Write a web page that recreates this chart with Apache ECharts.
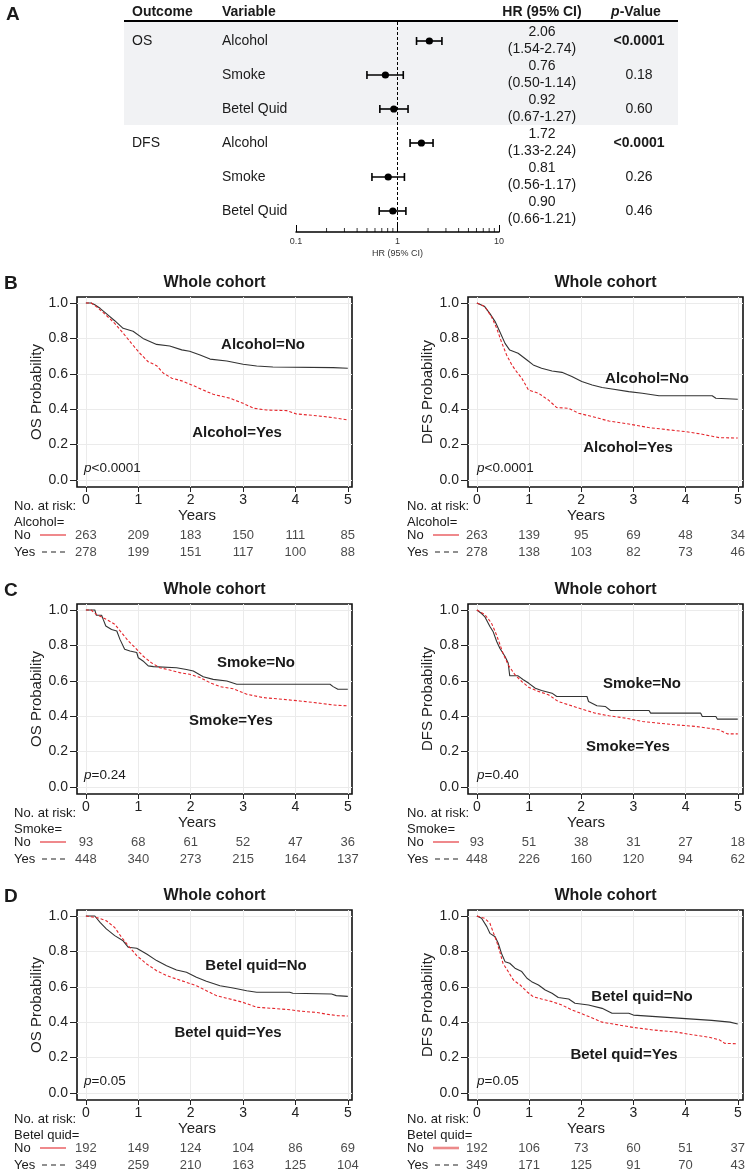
<!DOCTYPE html>
<html><head><meta charset="utf-8">
<script src="https://cdn.jsdelivr.net/npm/echarts@6/dist/echarts.min.js"></script>
<style>html,body{margin:0;padding:0;background:#fff}#c{width:750px;height:1176px}</style>
</head><body><div id="c"></div>
<script>
// ---------- Panel A: forest plot data ----------
const forestOutcome = ['OS', '', '', 'DFS', '', ''];
const forestVariable = ['Alcohol', 'Smoke', 'Betel Quid', 'Alcohol', 'Smoke', 'Betel Quid'];
const forestHR = [2.06, 0.76, 0.92, 1.72, 0.81, 0.90];
const forestLow = [1.54, 0.50, 0.67, 1.33, 0.56, 0.66];
const forestHigh = [2.74, 1.14, 1.27, 2.24, 1.17, 1.21];
const forestP = ['<0.0001', '0.18', '0.60', '<0.0001', '0.26', '0.46'];
const forestMinorTicks = [0.2, 0.3, 0.4, 0.5, 0.6, 0.7, 0.8, 0.9, 2, 3, 4, 5, 6, 7, 8, 9];

// ---------- KM axes ----------
const years = [0, 1, 2, 3, 4, 5];
const yTicks = [0, 0.2, 0.4, 0.6, 0.8, 1.0];

// ---------- KM curves [years, probability] ----------
const osAlcNo = [[0,1],[0.1,1],[0.17,0.99],[0.27,0.97],[0.39,0.94],[0.55,0.90],[0.71,0.857],[0.9,0.84],[1.09,0.80],[1.35,0.766],[1.6,0.757],[1.83,0.735],[1.98,0.727],[2.18,0.706],[2.37,0.683],[2.69,0.672],[3.0,0.654],[3.26,0.644],[3.57,0.638],[4.72,0.635],[5.0,0.631]];
const osAlcYes = [[0,1],[0.1,1],[0.2,0.98],[0.39,0.93],[0.55,0.885],[0.71,0.83],[0.87,0.772],[1.03,0.716],[1.19,0.668],[1.35,0.646],[1.48,0.603],[1.64,0.575],[1.83,0.56],[2.02,0.537],[2.24,0.508],[2.43,0.484],[2.75,0.462],[3.0,0.433],[3.2,0.405],[3.45,0.395],[3.83,0.392],[4.02,0.373],[4.4,0.363],[4.72,0.352],[5.0,0.339]];
const dfsAlcNo = [[0,1],[0.15,0.98],[0.25,0.94],[0.35,0.895],[0.44,0.838],[0.54,0.772],[0.63,0.734],[0.79,0.716],[0.96,0.678],[1.08,0.65],[1.24,0.631],[1.44,0.616],[1.63,0.608],[1.82,0.584],[2.01,0.556],[2.21,0.537],[2.4,0.522],[2.59,0.514],[2.91,0.499],[3.17,0.49],[3.49,0.476],[4.51,0.476],[4.58,0.462],[5.0,0.456]];
const dfsAlcYes = [[0,1],[0.15,0.98],[0.28,0.923],[0.38,0.857],[0.47,0.781],[0.57,0.706],[0.67,0.65],[0.76,0.612],[0.86,0.575],[0.99,0.508],[1.18,0.49],[1.37,0.452],[1.53,0.409],[1.76,0.405],[1.95,0.377],[2.21,0.358],[2.53,0.333],[2.91,0.316],[3.29,0.296],[3.68,0.283],[4.0,0.273],[4.32,0.258],[4.64,0.239],[5.0,0.237]];
const osSmkNo = [[0,1],[0.17,1],[0.2,0.97],[0.3,0.97],[0.33,0.947],[0.38,0.91],[0.49,0.89],[0.59,0.881],[0.65,0.834],[0.74,0.778],[0.84,0.768],[0.97,0.76],[1.0,0.73],[1.09,0.712],[1.19,0.684],[1.29,0.68],[1.73,0.674],[1.92,0.664],[2.05,0.655],[2.24,0.623],[2.43,0.608],[2.69,0.599],[2.88,0.58],[4.66,0.58],[4.72,0.567],[4.81,0.552],[5.0,0.552]];
const osSmkYes = [[0,1],[0.1,1],[0.2,0.975],[0.39,0.947],[0.55,0.92],[0.68,0.872],[0.81,0.825],[0.94,0.787],[1.09,0.74],[1.25,0.702],[1.41,0.674],[1.6,0.661],[1.79,0.646],[1.98,0.637],[2.18,0.618],[2.37,0.589],[2.56,0.567],[2.81,0.555],[3.07,0.524],[3.38,0.505],[3.77,0.495],[4.08,0.486],[4.47,0.473],[4.72,0.463],[5.0,0.458]];
const dfsSmkNo = [[0,1],[0.09,0.98],[0.15,0.963],[0.25,0.907],[0.31,0.879],[0.38,0.822],[0.44,0.784],[0.54,0.737],[0.6,0.70],[0.63,0.628],[0.79,0.628],[0.89,0.606],[0.99,0.587],[1.12,0.558],[1.24,0.545],[1.44,0.53],[1.53,0.511],[2.11,0.511],[2.14,0.483],[2.3,0.459],[2.46,0.455],[2.56,0.432],[3.3,0.432],[3.33,0.417],[4.29,0.417],[4.32,0.398],[4.58,0.398],[4.61,0.383],[5.0,0.383]];
const dfsSmkYes = [[0,1],[0.15,0.975],[0.28,0.926],[0.35,0.879],[0.41,0.832],[0.5,0.756],[0.6,0.69],[0.73,0.634],[0.86,0.596],[0.99,0.564],[1.18,0.54],[1.37,0.521],[1.56,0.483],[1.76,0.464],[2.01,0.44],[2.27,0.417],[2.53,0.402],[2.85,0.389],[3.17,0.37],[3.49,0.36],[3.81,0.351],[4.19,0.342],[4.44,0.332],[4.64,0.323],[4.8,0.30],[5.0,0.30]];
const osBetNo = [[0,1],[0.17,1],[0.27,0.964],[0.39,0.927],[0.55,0.889],[0.71,0.86],[0.81,0.823],[0.97,0.818],[1.16,0.785],[1.35,0.748],[1.54,0.719],[1.73,0.695],[1.92,0.682],[2.11,0.654],[2.3,0.631],[2.56,0.606],[2.81,0.593],[3.07,0.578],[3.26,0.569],[3.89,0.569],[3.95,0.563],[4.69,0.559],[4.78,0.55],[5.0,0.546]];
const osBetYes = [[0,1],[0.22,0.99],[0.39,0.973],[0.55,0.935],[0.68,0.88],[0.81,0.832],[0.97,0.776],[1.16,0.729],[1.35,0.691],[1.54,0.663],[1.73,0.644],[1.92,0.625],[2.11,0.606],[2.3,0.578],[2.49,0.55],[2.75,0.531],[3.0,0.512],[3.26,0.484],[3.57,0.478],[3.9,0.47],[4.1,0.462],[4.4,0.455],[4.6,0.445],[4.8,0.437],[5.0,0.435]];
const dfsBetNo = [[0,1],[0.09,0.987],[0.19,0.94],[0.25,0.902],[0.35,0.883],[0.41,0.846],[0.47,0.79],[0.54,0.742],[0.63,0.733],[0.73,0.705],[0.86,0.686],[0.96,0.648],[1.05,0.629],[1.18,0.61],[1.31,0.582],[1.44,0.563],[1.56,0.539],[1.76,0.531],[1.88,0.507],[2.14,0.497],[2.4,0.478],[2.59,0.45],[2.91,0.45],[3.0,0.44],[3.5,0.43],[4.0,0.42],[4.5,0.41],[4.85,0.40],[5.0,0.39]];
const dfsBetYes = [[0,1],[0.15,0.987],[0.25,0.959],[0.31,0.911],[0.38,0.855],[0.44,0.798],[0.5,0.733],[0.6,0.686],[0.7,0.638],[0.83,0.61],[0.96,0.572],[1.08,0.544],[1.24,0.531],[1.44,0.516],[1.63,0.497],[1.82,0.469],[1.99,0.45],[2.2,0.425],[2.4,0.40],[2.7,0.385],[3.0,0.37],[3.4,0.355],[3.8,0.345],[4.1,0.33],[4.45,0.315],[4.65,0.30],[4.75,0.28],[5.0,0.278]];

// ---------- Numbers at risk (at years 0..5) ----------
const riskOsAlcNo = [263, 209, 183, 150, 111, 85];
const riskOsAlcYes = [278, 199, 151, 117, 100, 88];
const riskDfsAlcNo = [263, 139, 95, 69, 48, 34];
const riskDfsAlcYes = [278, 138, 103, 82, 73, 46];
const riskOsSmkNo = [93, 68, 61, 52, 47, 36];
const riskOsSmkYes = [448, 340, 273, 215, 164, 137];
const riskDfsSmkNo = [93, 51, 38, 31, 27, 18];
const riskDfsSmkYes = [448, 226, 160, 120, 94, 62];
const riskOsBetNo = [192, 149, 124, 104, 86, 69];
const riskOsBetYes = [349, 259, 210, 163, 125, 104];
const riskDfsBetNo = [192, 106, 73, 60, 51, 37];
const riskDfsBetYes = [349, 171, 125, 91, 70, 43];

const pOsAlc = '<0.0001', pDfsAlc = '<0.0001', pOsSmk = '=0.24', pDfsSmk = '=0.40', pOsBet = '=0.05', pDfsBet = '=0.05';

// ---------- layout ----------
const F = 'Liberation Sans, Arial, Helvetica, sans-serif';
const INK = '#1a1a1a';
const RED = '#e5262c';
const rowBase = [303, 610, 916];

const panels = [
  {letter:'B', yName:'OS Probability', no:osAlcNo, yes:osAlcYes, rNo:riskOsAlcNo, rYes:riskOsAlcYes, grp:'Alcohol=', lNo:'Alcohol=No', lYes:'Alcohol=Yes', p:pOsAlc, posNo:[263,345], posYes:[237,433]},
  {letter:'', yName:'DFS Probability', no:dfsAlcNo, yes:dfsAlcYes, rNo:riskDfsAlcNo, rYes:riskDfsAlcYes, grp:'Alcohol=', lNo:'Alcohol=No', lYes:'Alcohol=Yes', p:pDfsAlc, posNo:[647,379], posYes:[628,448]},
  {letter:'C', yName:'OS Probability', no:osSmkNo, yes:osSmkYes, rNo:riskOsSmkNo, rYes:riskOsSmkYes, grp:'Smoke=', lNo:'Smoke=No', lYes:'Smoke=Yes', p:pOsSmk, posNo:[256,663], posYes:[231,721]},
  {letter:'', yName:'DFS Probability', no:dfsSmkNo, yes:dfsSmkYes, rNo:riskDfsSmkNo, rYes:riskDfsSmkYes, grp:'Smoke=', lNo:'Smoke=No', lYes:'Smoke=Yes', p:pDfsSmk, posNo:[642,684], posYes:[628,747]},
  {letter:'D', yName:'OS Probability', no:osBetNo, yes:osBetYes, rNo:riskOsBetNo, rYes:riskOsBetYes, grp:'Betel quid=', lNo:'Betel quid=No', lYes:'Betel quid=Yes', p:pOsBet, posNo:[256,966], posYes:[228,1033]},
  {letter:'', yName:'DFS Probability', no:dfsBetNo, yes:dfsBetYes, rNo:riskDfsBetNo, rYes:riskDfsBetYes, grp:'Betel quid=', lNo:'Betel quid=No', lYes:'Betel quid=Yes', p:pDfsBet, posNo:[642,997], posYes:[624,1055]}
];

// forest y mapping (rows 0..5)
const FY_MIN = -0.559, FY_MAX = 5.618;

const grids = [{left:296, top:22, width:203, height:210}];
const xAxes = [{
  type:'log', logBase:10, min:0.1, max:10, gridIndex:0,
  axisLine:{onZero:false, lineStyle:{color:'#000', width:1.5}},
  axisTick:{inside:true, length:7, lineStyle:{color:'#000', width:1}},
  axisLabel:{fontSize:9, color:'#333', margin:5, fontFamily:F},
  splitLine:{show:false},
  name:'HR (95% CI)', nameLocation:'middle', nameGap:17,
  nameTextStyle:{fontSize:9, color:'#333', fontFamily:F}
}];
const yAxes = [{type:'value', gridIndex:0, inverse:true, min:FY_MIN, max:FY_MAX, show:false, axisLine:{onZero:false}}];
const series = [];
const gfx = [];

function txt(x, y, text, o) {
  o = o || {};
  const st = {text, fill:o.fill||INK, fontSize:o.size||13, fontFamily:F, fontWeight:o.bold?'bold':'normal',
    align:o.align||'left', verticalAlign:'middle'};
  if (o.rich) st.rich = o.rich;
  if (o.lh) st.lineHeight = o.lh;
  gfx.push({type:'text', x, y, z:10, style:st});
}

// Forest decorations
gfx.push({type:'rect', z:0, shape:{x:124, y:22, width:554, height:103}, style:{fill:'#f1f2f4'}});
gfx.push({type:'line', z:5, shape:{x1:124, y1:21, x2:678, y2:21}, style:{stroke:'#000', lineWidth:2}});
txt(6, 15, 'A', {size:19, bold:true});
txt(132, 12, 'Outcome', {size:14, bold:true});
txt(222, 12, 'Variable', {size:14, bold:true});
txt(542, 12, 'HR (95% CI)', {size:14, bold:true, align:'center'});
txt(636, 12, '{i|p}-Value', {size:14, bold:true, align:'center',
  rich:{i:{fontStyle:'italic', fontWeight:'bold', fontSize:14, fontFamily:F, fill:INK}}});

series.push({
  type:'custom', xAxisIndex:0, yAxisIndex:0, clip:false, silent:true, z:5,
  data: forestHR.map((v, i) => [forestLow[i], forestHigh[i], v, i]),
  encode:{x:[0,1,2], y:3},
  renderItem(params, api) {
    const r = api.value(3);
    const lo = api.coord([api.value(0), r]);
    const hi = api.coord([api.value(1), r]);
    const c = api.coord([api.value(2), r]);
    const st = {stroke:'#000', lineWidth:1.6};
    return {type:'group', children:[
      {type:'line', shape:{x1:lo[0], y1:lo[1], x2:hi[0], y2:hi[1]}, style:st},
      {type:'line', shape:{x1:lo[0], y1:lo[1]-4, x2:lo[0], y2:lo[1]+4}, style:st},
      {type:'line', shape:{x1:hi[0], y1:hi[1]-4, x2:hi[0], y2:hi[1]+4}, style:st},
      {type:'circle', shape:{cx:c[0], cy:c[1], r:3.6}, style:{fill:'#000'}}
    ]};
  }
});
series.push({
  type:'custom', xAxisIndex:0, yAxisIndex:0, clip:false, silent:true, z:6,
  data: forestVariable.map((v, i) => [1, i]),
  encode:{x:0, y:1},
  renderItem(params, api) {
    const i = api.value(1);
    const y = api.coord([1, i])[1];
    const base = {fill:INK, fontSize:14, fontFamily:F, verticalAlign:'middle'};
    const kids = [];
    if (forestOutcome[i]) kids.push({type:'text', x:132, y, style:Object.assign({}, base, {text:forestOutcome[i], align:'left'})});
    kids.push({type:'text', x:222, y, style:Object.assign({}, base, {text:forestVariable[i], align:'left'})});
    const hrTxt = forestHR[i].toFixed(2) + '\n(' + forestLow[i].toFixed(2) + '-' + forestHigh[i].toFixed(2) + ')';
    kids.push({type:'text', x:542, y, style:Object.assign({}, base, {text:hrTxt, align:'center', lineHeight:17})});
    kids.push({type:'text', x:639, y, style:Object.assign({}, base, {text:forestP[i], align:'center',
      fontWeight: forestP[i].charAt(0) === '<' ? 'bold' : 'normal'})});
    return {type:'group', children:kids};
  }
});
series.push({
  type:'scatter', xAxisIndex:0, yAxisIndex:0, clip:false, silent:true,
  data: forestMinorTicks.map(v => [v, FY_MAX]),
  symbol:'rect', symbolSize:[1, 4], symbolOffset:[0, -2],
  itemStyle:{color:'#000'},
  markLine:{silent:true, symbol:['none','none'], label:{show:false},
    lineStyle:{type:[3,2], color:'#000', width:1}, data:[{xAxis:1}]}
});

// KM panels
panels.forEach((p, k) => {
  const row = Math.floor(k / 2), col = k % 2;
  const base = rowBase[row];
  const left = col ? 468 : 77;
  const xmax = col ? 5.1 : 5.08;
  const gi = 1 + k, ri = 7 + k;
  grids[gi] = {left, top:base - 6, width:275, height:190, show:true, borderColor:'#111', borderWidth:1.6, backgroundColor:'rgba(0,0,0,0)'};
  grids[ri] = {left, top:base + 223.5, width:275, height:34};
  xAxes[gi] = {type:'value', gridIndex:gi, min:-0.17, max:xmax,
    axisLine:{show:false, onZero:false},
    axisTick:{show:true, customValues:years, length:5, lineStyle:{color:'#222'}},
    axisLabel:{customValues:years, fontSize:14, color:'#222', margin:6, fontFamily:F},
    splitLine:{show:true, lineStyle:{color:'#ebebeb', width:1}}};
  yAxes[gi] = {type:'value', gridIndex:gi, min:-0.04, max:1.034,
    axisLine:{show:false, onZero:false},
    axisTick:{show:true, customValues:yTicks, length:7, lineStyle:{color:'#222'}},
    axisLabel:{customValues:yTicks, fontSize:14, color:'#222', margin:9, fontFamily:F, formatter:v => v.toFixed(1)},
    splitLine:{show:true, lineStyle:{color:'#ebebeb', width:1}},
    name:p.yName, nameLocation:'middle', nameGap:31, nameRotate:90,
    nameTextStyle:{fontSize:15, color:'#222', fontFamily:F}};
  xAxes[ri] = {type:'value', gridIndex:ri, min:-0.17, max:xmax, show:false, axisLine:{onZero:false}};
  yAxes[ri] = {type:'category', gridIndex:ri, data:['No','Yes'], inverse:true, show:false};

  series.push({type:'line', xAxisIndex:gi, yAxisIndex:gi, data:p.no, showSymbol:false, silent:true, z:3,
    lineStyle:{color:'#333', width:1.1}});
  series.push({type:'line', xAxisIndex:gi, yAxisIndex:gi, data:p.yes, showSymbol:false, silent:true, z:4,
    lineStyle:{color:RED, width:1.1, type:[3,2]}});
  [[p.rNo, 'No'], [p.rYes, 'Yes']].forEach(([arr, cat]) => {
    series.push({type:'scatter', xAxisIndex:ri, yAxisIndex:ri, silent:true, symbolSize:1,
      itemStyle:{color:'rgba(0,0,0,0)'},
      data: arr.map((v, j) => [years[j], cat, v]),
      label:{show:true, position:'inside', formatter:q => String(q.value[2]), fontSize:13, color:INK, fontFamily:F}});
  });

  const cx = col ? 605.5 : 214.5;
  if (p.letter) txt(4, base - 19, p.letter, {size:19, bold:true});
  txt(cx, base - 20, 'Whole cohort', {size:16, bold:true, align:'center'});
  txt(p.posNo[0], p.posNo[1], p.lNo, {size:15, bold:true, align:'center'});
  txt(p.posYes[0], p.posYes[1], p.lYes, {size:15, bold:true, align:'center'});
  txt(col ? 477 : 84, base + 165, '{i|p}' + p.p, {size:13.5,
    rich:{i:{fontStyle:'italic', fontSize:13.5, fontFamily:F, fill:INK}}});
  txt(col ? 586 : 197, base + 213, 'Years', {size:15, align:'center', fill:'#222'});
  const lx = col ? 407 : 14;
  txt(lx, base + 203, 'No. at risk:', {size:13});
  txt(lx, base + 219, p.grp, {size:13});
  txt(lx, base + 232, 'No', {size:13});
  txt(lx, base + 249, 'Yes', {size:13});
  const l0 = lx + 26, l1 = lx + 52;
  gfx.push({type:'line', z:10, shape:{x1:l0, y1:base + 232, x2:l1, y2:base + 232},
    style:{stroke: k === 5 ? '#ec8a8a' : '#e5393e', lineWidth: k === 5 ? 2.6 : 1.2}});
  gfx.push({type:'line', z:10, shape:{x1:l0 + 2, y1:base + 249, x2:l1, y2:base + 249},
    style:{stroke:'#222', lineWidth:1.2, lineDash:[5,4]}});
});

const chart = echarts.init(document.getElementById('c'), null, {renderer:'canvas'});
chart.setOption({
  animation:false,
  backgroundColor:'#fff',
  grid:grids, xAxis:xAxes, yAxis:yAxes, series,
  graphic:{elements:gfx}
});
</script></body></html>
